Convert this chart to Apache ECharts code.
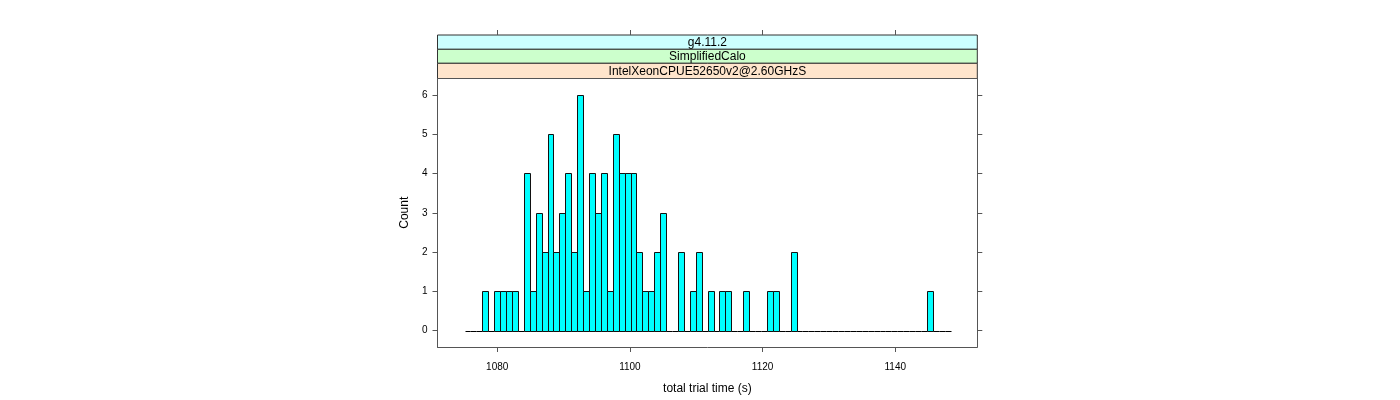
<!DOCTYPE html>
<html>
<head>
<meta charset="utf-8">
<script src="https://cdn.jsdelivr.net/npm/echarts@6/dist/echarts.min.js"></script>
<style>html,body{margin:0;padding:0;background:#fff}#c{width:1400px;height:400px}</style>
</head>
<body>
<div id="c"></div>
<script>
// ---- data ----
const binStart = 1075.07;      // first histogram break
const binWidth = 0.8937;       // break spacing
const counts = [0,0,0,1,0,1,1,1,1,0,4,1,3,2,5,2,3,4,2,6,1,4,3,4,1,5,4,4,4,2,1,1,2,3,0,0,2,0,1,2,0,1,0,1,1,0,0,1,0,0,0,1,1,0,0,2,0,0,0,0,0,0,0,0,0,0,0,0,0,0,0,0,0,0,0,0,0,0,1,0,0,0];
const xTicks = [1080, 1100, 1120, 1140];
const yTicks = [0, 1, 2, 3, 4, 5, 6];
const stripLabels = ['g4.11.2', 'SimplifiedCalo', 'IntelXeonCPUE52650v2@2.60GHzS'];
const xName = 'total trial time (s)';
const yName = 'Count';

// ---- build ----
const histData = counts.map((c, k) => [binStart + k * binWidth, binStart + (k + 1) * binWidth, c]);

const G = {left: 437.5, top: 78.5, width: 539.8, height: 269.2};
const stripColors = ['#CCFFFF', '#CCFFCC', '#FFE5CC'];
const stripY = [35, 49.3, 63.3, 78.5];
const FONT = 'Liberation Sans, Arial, Helvetica, sans-serif';
const AX = '#555';

const graphics = [];
for (let i = 0; i < 3; i++) {
  graphics.push({
    type: 'rect', silent: true,
    shape: {x: G.left, y: stripY[i], width: G.width, height: stripY[i + 1] - stripY[i]},
    style: {fill: stripColors[i], stroke: '#333', lineWidth: 1}
  });
  graphics.push({
    type: 'text', silent: true,
    x: G.left + G.width / 2, y: (stripY[i] + stripY[i + 1]) / 2 + 0.5,
    style: {text: stripLabels[i], fill: '#000', font: '12px ' + FONT, align: 'center', verticalAlign: 'middle'}
  });
}

const crisp = v => Math.round(v) + 0.5;
const plain = v => String(v);

const chart = echarts.init(document.getElementById('c'), null, {renderer: 'canvas'});
chart.setOption({
  animation: false,
  backgroundColor: '#fff',
  textStyle: {fontFamily: FONT},
  grid: {left: G.left, top: G.top, width: G.width, height: G.height, containLabel: false},
  xAxis: [{
    type: 'value', position: 'bottom', min: 1071.0, max: 1152.36,
    name: xName, nameLocation: 'middle', nameGap: 36,
    nameTextStyle: {fontSize: 12, color: '#000', fontFamily: FONT},
    axisLine: {show: true, onZero: false, lineStyle: {color: AX, width: 1}},
    axisTick: {show: true, inside: false, length: 5, customValues: xTicks, lineStyle: {color: AX}},
    axisLabel: {show: true, customValues: xTicks, formatter: plain, margin: 15, fontSize: 10, color: '#000', fontFamily: FONT},
    splitLine: {show: false}
  }, {
    type: 'value', position: 'top', min: 1071.0, max: 1152.36, offset: 43.5,
    axisLine: {show: false, onZero: false},
    axisTick: {show: true, inside: false, length: 5, customValues: xTicks, lineStyle: {color: AX}},
    axisLabel: {show: false},
    splitLine: {show: false}
  }],
  yAxis: [{
    type: 'value', position: 'left', min: -0.42, max: 6.42,
    name: yName, nameLocation: 'middle', nameGap: 27, nameRotate: 90,
    nameTextStyle: {fontSize: 12, color: '#000', fontFamily: FONT},
    axisLine: {show: true, onZero: false, lineStyle: {color: AX, width: 1}},
    axisTick: {show: true, inside: false, length: 5, customValues: yTicks, lineStyle: {color: AX}},
    axisLabel: {show: true, customValues: yTicks, formatter: plain, margin: 10, fontSize: 10, color: '#000', fontFamily: FONT},
    splitLine: {show: false}
  }, {
    type: 'value', position: 'right', min: -0.42, max: 6.42,
    axisLine: {show: true, onZero: false, lineStyle: {color: AX, width: 1}},
    axisTick: {show: true, inside: false, length: 5, customValues: yTicks, lineStyle: {color: AX}},
    axisLabel: {show: false},
    splitLine: {show: false}
  }],
  graphic: graphics.concat([{
    type: 'line', silent: true,
    shape: {x1: G.left, y1: G.top, x2: G.left + G.width, y2: G.top},
    style: {stroke: AX, lineWidth: 1}
  }]),
  series: [{
    type: 'custom',
    xAxisIndex: 0, yAxisIndex: 0,
    data: histData,
    encode: {x: [0, 1], y: 2},
    renderItem: function (params, api) {
      const x0 = api.value(0), x1 = api.value(1), c = api.value(2);
      const pTop = api.coord([x0, c]);
      const pBot = api.coord([x1, 0]);
      const L = crisp(pTop[0]), R = crisp(pBot[0]), B = crisp(pBot[1]), T = crisp(pTop[1]);
      if (c === 0) {
        return {type: 'line', shape: {x1: L, y1: B, x2: R, y2: B}, style: {stroke: '#000', lineWidth: 1}};
      }
      return {type: 'rect', shape: {x: L, y: T, width: R - L, height: B - T},
        style: {fill: '#00FFFF', stroke: '#111', lineWidth: 1}};
    }
  }]
});
</script>
</body>
</html>
